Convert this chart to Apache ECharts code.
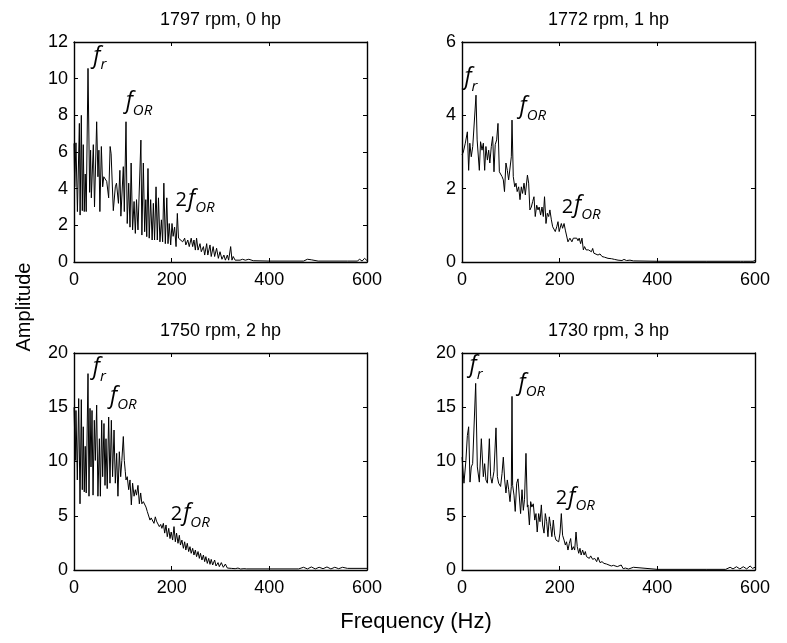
<!DOCTYPE html>
<html>
<head>
<meta charset="utf-8">
<script src="https://cdn.jsdelivr.net/npm/echarts@6/dist/echarts.min.js"></script>
<style>
  html, body { margin: 0; padding: 0; background: #fff; }
  #chart { width: 787px; height: 643px; }
</style>
</head>
<body>
<div id="chart"></div>
<script>
// Envelope spectra of the outer-race fault signal at four motor loads
const panelTitles = ['1797 rpm, 0 hp', '1772 rpm, 1 hp', '1750 rpm, 2 hp', '1730 rpm, 3 hp'];
const xTicks = [0, 200, 400, 600];
const yMaxes = [12, 6, 20, 20];
const yIntervals = [2, 2, 5, 5];

// 1797 rpm, 0 hp
const freq0hp = [0,1.5,4,7,11,12.5,15,17,19,21,23,25,28.7,32,34,35.5,39.6,42,46.4,49,51,53,56,58.7,61,63,67,71,74,76,80.5,84.6,87,91,94,96,101,103,106.5,109,112,114.7,117,120,123,125.6,128,131,137,139,142,144.7,147,149,151.5,154,157,160,162.5,165,168,170.6,173,176,179,181.5,184,187,190,192.5,195,198,200.7,203,206,209,211.6,214,218,222.5,226.6,229,233,236,240,243,245.7,248.5,251,254,258,260.7,265,267.6,271.7,274,278.5,281,285,288,292,295.6,299,303,307,310,314,316.7,320.8,323.5,326,330,334,340,345,351,358,367,400,470,478,482,486,500,560,580,585,590,595,600];
const amp0hp = [6.47,4.1,6.5,2.75,7.56,2.56,8.0,2.8,6.4,2.75,4.8,2.75,10.56,3.8,6.1,3.5,6.4,3.0,7.65,4.65,6.1,2.75,6.3,4.1,4.65,4.65,4.4,3.5,6.3,5.9,2.8,4.1,4.3,3.2,5.0,2.5,5.2,2.75,7.65,2.1,4.3,1.9,5.4,1.75,3.3,1.56,3.4,1.75,6.65,1.47,5.4,1.65,3.4,1.38,5.1,1.3,3.4,1.2,3.2,1.2,4.1,1.2,3.5,1.1,2.3,1.1,4.3,1.0,3.5,1.0,2.1,0.93,2.1,1.4,1.9,0.84,2.65,1.3,1.2,1.1,1.3,0.93,1.2,0.84,1.3,0.84,1.2,0.65,1.3,0.65,1.0,0.56,0.84,0.38,1.0,0.38,0.93,0.3,0.84,0.3,0.75,0.2,0.56,0.15,0.38,0.1,0.38,0.1,0.84,0.1,0.3,0.1,0.2,0.1,0.15,0.1,0.15,0.07,0.05,0.05,0.15,0.05,0.12,0.05,0.05,0.05,0.15,0.05,0.2,0.08];

// 1772 rpm, 1 hp
const freq1hp = [0,2.7,6.8,11,13.6,16,19,22,24.6,28.7,31,35.5,38,41,43.7,46.4,49,52,54.6,57,60,62.8,65.5,68,71,73.7,76.5,79,82,84.6,87,90,92.8,95.5,98,101,102.4,105,108,110.6,113,116,118.8,121.5,124,127,129.7,134,136.5,139,142,144.7,147.4,150,153,155.6,158,161,163.8,166.5,169,172,174.7,177.5,180,183,185.7,188.4,191,194,196.6,199,203.4,206,209,211.6,214,217,221,225,228,230.7,235,237.5,240,243,245.7,248.5,251,254,256.7,259,262,265,267.6,270,274,278.5,282.6,286.7,292,299,306,312.6,319.5,323.5,327.6,331.7,337,344,351,400,500,570,573,576,590,593,596,600];
const amp1hp = [2.92,3.0,3.24,3.55,2.5,3.24,2.87,3.15,3.1,4.55,3.33,2.5,3.28,3.05,3.24,2.5,3.15,2.78,3.05,2.7,3.15,3.42,2.46,3.2,3.33,3.78,2.46,2.42,2.33,2.24,1.92,2.7,2.5,2.24,2.28,2.87,3.87,2.33,2.05,2.15,1.92,2.05,1.7,2.05,1.87,2.15,1.83,2.37,2.15,1.42,1.5,1.65,1.78,1.24,1.55,1.42,1.5,1.28,1.5,1.24,1.78,1.05,1.33,1.24,1.42,1.15,0.96,1.0,0.83,0.96,1.1,0.83,1.05,0.92,1.05,0.87,0.83,0.55,0.65,0.55,0.65,0.6,0.65,0.58,0.65,0.5,0.65,0.33,0.42,0.33,0.37,0.33,0.37,0.28,0.37,0.24,0.28,0.19,0.22,0.15,0.13,0.1,0.09,0.07,0.05,0.09,0.04,0.07,0.04,0.05,0.03,0.02,0.02,0.02,0.06,0.02,0.02,0.07,0.02,0.04];

// 1750 rpm, 2 hp
const freq2hp = [0,2.7,4,6.8,9.6,12.3,15,17,19,21,23,25,28.7,30.7,32.8,34.8,36.9,39,41.6,43.7,46.4,49,52,54,56.7,58.7,61.4,63.5,65.5,68,71,73.7,76.5,79,82,84.6,87.4,90,92.8,95.6,98,101,103,105,106.5,109,112,114.7,117.4,120,123,125.6,128,131,133.8,136.5,139,142,144.7,147.4,150,153,155.6,158,161,163.8,166.5,169,172,174.7,177.5,180,183,185.7,188.4,191,194,196.6,199,202,204.8,207.5,210,213,215.7,218,221,224,226.6,229,232,234.8,237.5,240,243,245.7,248.5,251,254,256.7,259,262,265,267.6,270,273,275.8,278.5,281,284,288,290.8,295,297.6,301.7,305.8,310,314,318,322,326,330,335.8,341,348,353.6,400,460,470,478,486,494,502,510,518,526,534,542,550,560,600];
const amp2hp = [15.0,10.1,14.7,8.3,15.8,6.1,15.7,7.4,13.2,7.2,11.4,7.1,18.1,6.8,14.9,9.5,14.7,6.9,13.8,10.1,15.2,6.8,12.1,6.8,13.8,8.6,13.5,7.8,12.1,7.5,14.1,8.0,13.8,8.6,12.9,8.0,10.75,6.8,10.9,8.6,10.1,12.3,10.1,9.1,8.3,8.6,7.4,8.3,6.0,8.0,6.8,7.4,6.9,7.8,6.1,7.1,6.1,6.3,6.3,5.8,5.4,5.5,4.6,4.8,4.9,4.3,4.9,4.5,4.6,4.0,4.2,3.84,4.3,3.4,4.15,3.07,3.84,2.9,3.5,2.76,4.0,2.6,3.4,2.46,3.2,2.3,2.76,2.0,2.6,1.84,2.46,1.7,2.15,1.54,2.0,1.38,1.84,1.23,1.7,1.07,1.54,0.92,1.38,0.77,1.23,0.61,1.07,0.52,0.98,0.46,0.92,0.37,0.68,0.31,0.68,0.25,0.55,0.18,0.31,0.15,0.25,0.12,0.18,0.09,0.12,0.1,0.1,0.1,0.25,0.1,0.28,0.1,0.25,0.12,0.28,0.1,0.25,0.12,0.25,0.15,0.15];

// 1730 rpm, 3 hp
const freq3hp = [0,4,8,11,13.6,16.4,19,21.8,24.6,28,31.4,35.5,39.6,43.7,46.4,49,52,56,58.7,61.4,65.5,69.6,72.4,75,79,82,84.6,87.4,90,92.8,95.6,98.3,101,102.4,103.7,106.5,109,112,114.7,117.4,120,122.9,125.6,128,131,133.8,135,138,140.6,143,146,149,151.5,154,157,159.7,162.5,165,168,170.6,173.4,176,178.8,181.6,184,187,189.8,192.5,195,198,200.7,203.4,206,209,211.6,214,217,219.8,222.5,225,228,230.7,233.5,236,239,241.6,244,247,250,252.6,255,258,260.7,263.5,267.6,271.7,275.8,278.5,282.6,286.7,290.8,296,300,305.8,310,314,318,322,326,330,334.5,341,351,355,400,500,540,549,555,562,569,576,583,590,595,600];
const amp3hp = [10.4,8.0,10.1,12.4,13.2,8.1,9.5,9.8,9.7,17.2,9.5,8.1,12.1,8.6,9.8,8.3,8.0,12.1,8.6,8.0,9.1,13.1,8.6,8.0,7.7,8.9,10.4,8.3,7.1,8.3,7.4,6.3,7.7,16.0,7.8,6.9,5.4,8.0,8.4,8.3,5.2,7.4,5.5,6.5,10.75,5.8,6.0,4.15,6.3,5.8,6.1,4.6,5.2,3.5,5.2,4.45,6.0,4.15,3.4,5.2,4.45,3.07,4.9,4.0,3.07,4.6,3.2,2.76,2.9,2.6,3.4,5.2,3.2,2.76,2.3,2.6,1.84,2.46,2.9,1.84,2.15,1.84,3.5,2.15,1.54,2.0,1.38,1.84,1.38,1.7,1.23,1.38,1.07,1.3,0.98,1.07,0.77,1.17,0.68,0.77,0.61,0.55,0.46,0.37,0.43,0.25,0.31,0.15,0.46,0.12,0.18,0.09,0.25,0.09,0.06,0.06,0.06,0.25,0.1,0.3,0.1,0.3,0.1,0.37,0.15,0.25];

const freqs = [freq0hp, freq1hp, freq2hp, freq3hp];
const amps = [amp0hp, amp1hp, amp2hp, amp3hp];

// Where the characteristic-frequency annotations sit, in each panel's data units
const frLabelAt = [[53, 11.1], [18.4, 4.96], [52, 18.4], [29, 18.6]];
const fORLabelAt = [[133, 8.6], [145, 4.17], [101, 15.8], [143, 17.0]];
const f2ORLabelAt = [[248, 3.3], [244, 1.47], [238, 5.0], [232, 6.5]];

const grids = [
  { left: 74, top: 42, width: 293, height: 220 },
  { left: 462, top: 42, width: 293, height: 220 },
  { left: 74, top: 353, width: 293, height: 217 },
  { left: 462, top: 353, width: 293, height: 217 }
];

const FONT = 'Liberation Sans, Arial, Helvetica, sans-serif';
const frame = { show: true, onZero: false, lineStyle: { color: '#000', width: 1.4 } };
const ticks = { show: true, inside: true, length: 4, lineStyle: { color: '#000', width: 1 } };
const tickLabel = { color: '#000', fontSize: 18, fontFamily: FONT };

const xAxes = [], yAxes = [], series = [];

const richStyles = {
  f: { fontFamily: 'Open Sans', fontStyle: 'italic', fontSize: 23, lineHeight: 28, verticalAlign: 'top', color: '#000' },
  n: { fontFamily: 'Open Sans', fontSize: 20, lineHeight: 28, verticalAlign: 'top', color: '#000', padding: [3, 1, 0, 0] },
  s: { fontFamily: 'Open Sans', fontStyle: 'italic', fontSize: 15, lineHeight: 15, verticalAlign: 'bottom', color: '#000' }
};

function annotation(pos, text) {
  return {
    type: 'scatter', symbolSize: 0, silent: true, z: 5,
    data: [pos],
    label: {
      show: true, position: [0, 0], align: 'center', verticalAlign: 'middle',
      color: '#000', opacity: 1, textBorderWidth: 0,
      formatter: text, rich: richStyles
    }
  };
}

for (let i = 0; i < 4; i++) {
  const xLo = 2 * i;
  xAxes.push({
    gridIndex: i, type: 'value', position: 'bottom', min: 0, max: xTicks[xTicks.length - 1],
    interval: xTicks[1] - xTicks[0], axisLine: frame, axisTick: ticks,
    axisLabel: Object.assign({ margin: 9 }, tickLabel), splitLine: { show: false }
  });
  xAxes.push({
    gridIndex: i, type: 'value', position: 'top', min: 0, max: xTicks[xTicks.length - 1],
    interval: xTicks[1] - xTicks[0], axisLine: frame, axisTick: ticks,
    axisLabel: { show: false }, splitLine: { show: false }
  });
  yAxes.push({
    gridIndex: i, type: 'value', position: 'left', min: 0, max: yMaxes[i], interval: yIntervals[i],
    axisLine: frame, axisTick: ticks,
    axisLabel: Object.assign({ margin: 6 }, tickLabel), splitLine: { show: false }
  });
  yAxes.push({
    gridIndex: i, type: 'value', position: 'right', min: 0, max: yMaxes[i], interval: yIntervals[i],
    axisLine: frame, axisTick: ticks, axisLabel: { show: false }, splitLine: { show: false }
  });

  series.push({
    type: 'line', xAxisIndex: xLo, yAxisIndex: xLo, showSymbol: false, symbol: 'none',
    silent: true, animation: false,
    lineStyle: { color: '#000', width: 1 },
    data: freqs[i].map((f, k) => [f, amps[i][k]])
  });

  [
    annotation(frLabelAt[i], '{f|f}{s|r}'),
    annotation(fORLabelAt[i], '{f|f}{s|OR}'),
    annotation(f2ORLabelAt[i], '{n|2}{f|f}{s|OR}')
  ].forEach(s => { s.xAxisIndex = xLo; s.yAxisIndex = xLo; series.push(s); });
}

const titleText = panelTitles.map((t, i) => ({
  type: 'text',
  x: grids[i].left + grids[i].width / 2,
  y: grids[i].top - 22,
  style: { text: t, font: '18px ' + FONT, fill: '#000', textAlign: 'center', textVerticalAlign: 'middle' }
}));

const chart = echarts.init(document.getElementById('chart'), null, { renderer: 'canvas' });
chart.setOption({
  animation: false,
  backgroundColor: '#fff',
  grid: grids.map(g => Object.assign({ containLabel: false }, g)),
  xAxis: xAxes,
  yAxis: yAxes,
  series: series,
  graphic: titleText.concat([
    {
      type: 'text', x: 24, y: 307, rotation: Math.PI / 2,
      style: { text: 'Amplitude', font: '20px ' + FONT, fill: '#000', textAlign: 'center', textVerticalAlign: 'middle' }
    },
    {
      type: 'text', x: 416, y: 622,
      style: { text: 'Frequency (Hz)', font: '22px ' + FONT, fill: '#000', textAlign: 'center', textVerticalAlign: 'middle' }
    }
  ])
});
</script>
</body>
</html>
